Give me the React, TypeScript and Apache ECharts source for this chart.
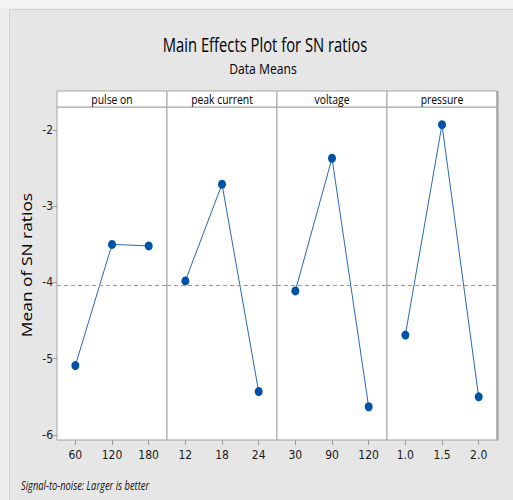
import React, { useEffect, useRef } from "react";
import * as echarts from "echarts";

const panelNames = ["pulse on", "peak current", "voltage", "pressure"];
const pulseOnLevels = ["60", "120", "180"];
const pulseOnMeans = [-5.09, -3.5, -3.52];
const peakCurrentLevels = ["12", "18", "24"];
const peakCurrentMeans = [-3.98, -2.71, -5.43];
const voltageLevels = ["30", "90", "120"];
const voltageMeans = [-4.11, -2.37, -5.63];
const pressureLevels = ["1.0", "1.5", "2.0"];
const pressureMeans = [-4.69, -1.93, -5.5];
const overallMean = -4.04;
const yTicks = [-6, -5, -4, -3, -2];
const yMin = -6.066;
const yMax = -1.698;

const levels = [pulseOnLevels, peakCurrentLevels, voltageLevels, pressureLevels];
const means = [pulseOnMeans, peakCurrentMeans, voltageMeans, pressureMeans];

const PLOT_LEFT = 57;
const PANEL_W = 110;
const PLOT_TOP = 107;
const PLOT_H = 333;
const HEADER_H = 16;
const NARROW = "'Liberation Sans Narrow', 'DejaVu Sans Condensed', 'Open Sans', sans-serif";
const TEXT_FONT = "'Open Sans', sans-serif";

export default function App() {
  const ref = useRef<HTMLDivElement>(null);
  useEffect(() => {
    document.body.style.margin = "0";
    if (!ref.current) return;
    const chart = echarts.init(ref.current, undefined, { renderer: "svg" });

    const grids = panelNames.map((_, i) => ({
      left: PLOT_LEFT + PANEL_W * i,
      top: PLOT_TOP,
      width: PANEL_W,
      height: PLOT_H,
      show: true,
      backgroundColor: "#ffffff",
      borderColor: "#a3a3a3",
      borderWidth: 1,
      containLabel: false,
    }));

    const xAxes = panelNames.map((_, i) => ({
      type: "category",
      gridIndex: i,
      data: levels[i],
      boundaryGap: true,
      axisLine: { show: false },
      axisTick: { show: true, alignWithLabel: true, length: 5, lineStyle: { color: "#9a9a9a" } },
      axisLabel: { fontSize: 12, fontFamily: NARROW, color: "#1a1a1a", margin: 9 },
      splitLine: { show: false },
    }));

    const yAxes = panelNames.map((_, i) => ({
      type: "value",
      gridIndex: i,
      min: yMin,
      max: yMax,
      axisLine: { show: false },
      splitLine: { show: false },
      axisTick:
        i === 0
          ? { show: true, length: 4, customValues: yTicks, lineStyle: { color: "#9a9a9a" } }
          : { show: false },
      axisLabel:
        i === 0
          ? { show: true, customValues: yTicks, fontSize: 12, fontFamily: NARROW, color: "#1a1a1a", margin: 4 }
          : { show: false },
    }));

    const series = panelNames.map((name, i) => ({
      type: "line",
      name,
      xAxisIndex: i,
      yAxisIndex: i,
      data: means[i],
      symbol: "circle",
      symbolSize: [8, 9],
      itemStyle: { color: "#0052a5" },
      lineStyle: { color: "#2a66b5", width: 1 },
      markLine: {
        silent: true,
        symbol: "none",
        label: { show: false },
        lineStyle: { color: "#9a9a9a", type: [4, 3], width: 1 },
        data: [{ yAxis: overallMean }],
      },
    }));

    const headerGraphics: any[] = [];
    panelNames.forEach((name, i) => {
      headerGraphics.push({
        type: "rect",
        shape: { x: PLOT_LEFT + PANEL_W * i, y: PLOT_TOP - HEADER_H, width: PANEL_W, height: HEADER_H },
        style: { fill: "#ffffff", stroke: "#a3a3a3", lineWidth: 1 },
        z: 10,
      });
      headerGraphics.push({
        type: "text",
        x: PLOT_LEFT + PANEL_W * i + PANEL_W / 2,
        y: PLOT_TOP - HEADER_H / 2,
        scaleX: 0.83,
        style: {
          text: name,
          fontSize: 12.5,
          fontFamily: TEXT_FONT,
          fill: "#000",
          textAlign: "center",
          textVerticalAlign: "middle",
        },
        z: 11,
      });
    });

    chart.setOption({
      animation: false,
      backgroundColor: "#ededed",
      grid: grids,
      xAxis: xAxes,
      yAxis: yAxes,
      series,
      graphic: [
        { type: "rect", shape: { x: 0, y: 0, width: 513, height: 8 }, style: { fill: "#f4f4f4" }, z: -10 },
        {
          type: "rect",
          shape: { x: 9.5, y: 9.5, width: 510, height: 500 },
          style: { fill: "#e6e6e6", stroke: "#d2d2d2", lineWidth: 1 },
          z: -10,
        },
        {
          type: "line",
          shape: { x1: 497.5, y1: PLOT_TOP - HEADER_H, x2: 497.5, y2: PLOT_TOP + PLOT_H + 0.5 },
          style: { stroke: "#a3a3a3", lineWidth: 2 },
          z: 12,
        },
        {
          type: "text",
          x: 265,
          y: 44,
          scaleX: 0.74,
          style: {
            text: "Main Effects Plot for SN ratios",
            fontSize: 20,
            fontFamily: TEXT_FONT,
            fill: "#000",
            textAlign: "center",
            textVerticalAlign: "middle",
          },
        },
        {
          type: "text",
          x: 263,
          y: 69,
          scaleX: 0.84,
          style: {
            text: "Data Means",
            fontSize: 14.5,
            fontFamily: TEXT_FONT,
            fill: "#000",
            textAlign: "center",
            textVerticalAlign: "middle",
          },
        },
        {
          type: "text",
          x: 26,
          y: 265,
          rotation: Math.PI / 2,
          scaleX: 1.16,
          style: {
            text: "Mean of SN ratios",
            fontSize: 15,
            fontFamily: TEXT_FONT,
            fill: "#000",
            textAlign: "center",
            textVerticalAlign: "middle",
          },
        },
        {
          type: "text",
          x: 21,
          y: 485,
          scaleX: 0.72,
          style: {
            text: "Signal-to-noise: Larger is better",
            fontSize: 13,
            fontStyle: "italic",
            fontFamily: TEXT_FONT,
            fill: "#111",
            textAlign: "left",
            textVerticalAlign: "middle",
          },
        },
        ...headerGraphics,
      ],
    });
    return () => chart.dispose();
  }, []);
  return <div ref={ref} style={{ width: 513, height: 500 }} />;
}
